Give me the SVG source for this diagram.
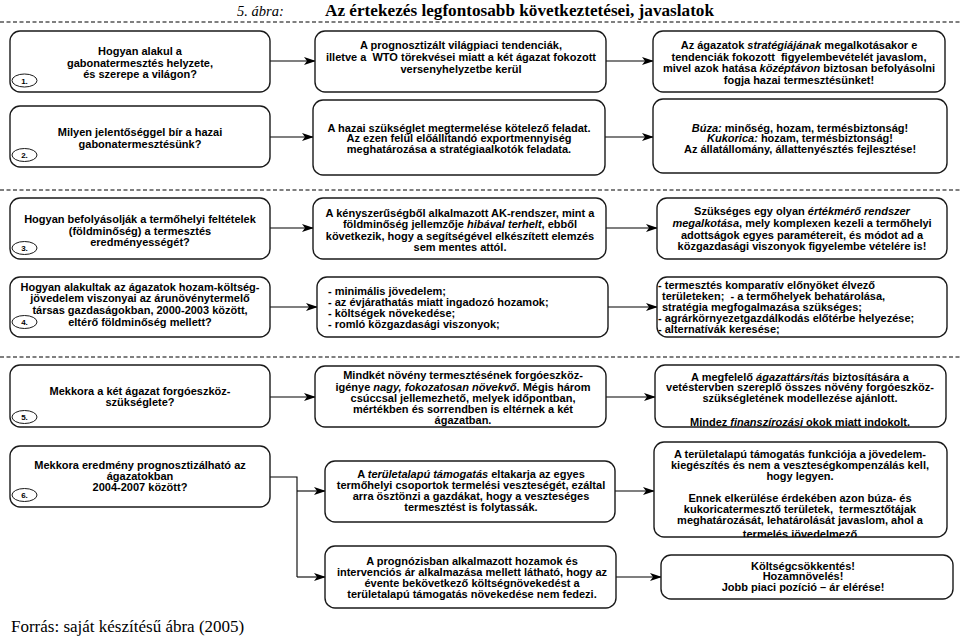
<svg xmlns="http://www.w3.org/2000/svg" width="960" height="636" viewBox="0 0 960 636">
<style>
.bx{fill:#fff;stroke:#1a1a1a;stroke-width:1.4}
.t{font-family:"Liberation Sans",Arial,sans-serif;font-weight:bold;font-size:11px;fill:#000}
.c{text-anchor:middle}
.i{font-style:italic}
.el{fill:#fff;stroke:#1a1a1a;stroke-width:1}
.n{font-family:"Liberation Sans",Arial,sans-serif;font-weight:bold;font-size:8px;text-anchor:middle}
.cn{fill:none;stroke:#000;stroke-width:1.1}
.dash{stroke:#555;stroke-width:1.5;stroke-dasharray:4 2.5}
.serif{font-family:"Liberation Serif","Times New Roman",serif;fill:#000}
</style>
<defs>
<marker id="ah" viewBox="0 0 12 8" refX="11" refY="4" markerWidth="12" markerHeight="8" markerUnits="userSpaceOnUse" orient="auto">
<path d="M0,0 L12,4 L0,8 L3,4 Z" fill="#000"/>
</marker>
<clipPath id="clip5m"><rect x="315" y="366" width="291" height="61"/></clipPath>
<clipPath id="clip6r"><rect x="654" y="442" width="293" height="95"/></clipPath>
</defs>

<text class="serif" x="237" y="15.5" font-size="14.5" font-style="italic">5. ábra:</text>
<text class="serif" x="325" y="15.5" font-size="17.2" font-weight="bold">Az értekezés legfontosabb következtetései, javaslatok</text>
<g id="separators">
<line class="dash" x1="0" y1="22" x2="960" y2="22"/>
<line class="dash" x1="0" y1="190" x2="960" y2="190"/>
<line class="dash" x1="0" y1="357" x2="960" y2="357"/>
</g>

<g id="connectors">
<line class="cn" x1="270" y1="61" x2="315" y2="61" marker-end="url(#ah)"/>
<line class="cn" x1="606" y1="61" x2="653" y2="61" marker-end="url(#ah)"/>
<line class="cn" x1="270" y1="137" x2="313" y2="137" marker-end="url(#ah)"/>
<line class="cn" x1="605" y1="137" x2="653" y2="137" marker-end="url(#ah)"/>
<line class="cn" x1="270" y1="228" x2="313" y2="228" marker-end="url(#ah)"/>
<line class="cn" x1="606" y1="228" x2="657" y2="228" marker-end="url(#ah)"/>
<line class="cn" x1="270" y1="307" x2="317" y2="307" marker-end="url(#ah)"/>
<line class="cn" x1="608" y1="307" x2="657" y2="307" marker-end="url(#ah)"/>
<line class="cn" x1="270" y1="397" x2="315" y2="397" marker-end="url(#ah)"/>
<line class="cn" x1="606" y1="397" x2="655" y2="397" marker-end="url(#ah)"/>
<path class="cn" d="M270,477 H297 V577"/>
<line class="cn" x1="297" y1="491" x2="325" y2="491" marker-end="url(#ah)"/>
<line class="cn" x1="297" y1="577" x2="325" y2="577" marker-end="url(#ah)"/>
<line class="cn" x1="615" y1="491" x2="654" y2="491" marker-end="url(#ah)"/>
<line class="cn" x1="616" y1="577" x2="661" y2="577" marker-end="url(#ah)"/>
</g>

<!-- Row 1 -->
<g id="q1">
<rect class="bx" x="10" y="31" width="260" height="61" rx="10"/>
<text class="t c" x="140" y="55">Hogyan alakul a</text>
<text class="t c" x="140" y="67">gabonatermesztés helyzete,</text>
<text class="t c" x="140" y="78">és szerepe a világon?</text>
<ellipse class="el" cx="24.5" cy="80.5" rx="12.5" ry="6.5"/>
<text class="n" x="24.5" y="83.5">1.</text>
</g>
<g id="a1">
<rect class="bx" x="315" y="31" width="291" height="61" rx="10"/>
<text class="t c" x="461" y="49">A prognosztizált világpiaci tendenciák,</text>
<text class="t c" x="461" y="60.5" xml:space="preserve">illetve a  WTO törekvései miatt a két ágazat fokozott</text>
<text class="t c" x="461" y="73">versenyhelyzetbe kerül</text>
</g>
<g id="p1">
<rect class="bx" x="653" y="31" width="292" height="61" rx="10"/>
<text class="t c" x="799" y="49">Az ágazatok <tspan class="i">stratégiájának</tspan> megalkotásakor e</text>
<text class="t c" x="799" y="60.5" xml:space="preserve">tendenciák fokozott  figyelembevételét javaslom,</text>
<text class="t c" x="799" y="72">mivel azok hatása <tspan class="i">középtávon</tspan> biztosan befolyásolni</text>
<text class="t c" x="799" y="84">fogja hazai termesztésünket!</text>
</g>

<!-- Row 2 -->
<g id="q2">
<rect class="bx" x="10" y="106" width="260" height="61" rx="10"/>
<text class="t c" x="140" y="136">Milyen jelentőséggel bír a hazai</text>
<text class="t c" x="140" y="148">gabonatermesztésünk?</text>
<ellipse class="el" cx="24.5" cy="155" rx="12.5" ry="6.5"/>
<text class="n" x="24.5" y="158">2.</text>
</g>
<g id="a2">
<rect class="bx" x="313" y="100" width="292" height="75" rx="10"/>
<text class="t c" x="459" y="131.5">A hazai szükséglet megtermelése kötelező feladat.</text>
<text class="t c" x="459" y="142">Az ezen felül előállítandó exportmennyiség</text>
<text class="t c" x="459" y="152.5">meghatározása a stratégiaalkotók feladata.</text>
</g>
<g id="p2">
<rect class="bx" x="653" y="99" width="294" height="74" rx="10"/>
<text class="t c" x="800" y="131.5"><tspan class="i">Búza:</tspan> minőség, hozam, termésbiztonság!</text>
<text class="t c" x="800" y="142"><tspan class="i">Kukorica:</tspan> hozam, termésbiztonság!</text>
<text class="t c" x="800" y="152.5">Az állatállomány, állattenyésztés fejlesztése!</text>
</g>

<!-- Row 3 -->
<g id="q3">
<rect class="bx" x="10" y="198" width="260" height="61" rx="10"/>
<text class="t c" x="140" y="223">Hogyan befolyásolják a termőhelyi feltételek</text>
<text class="t c" x="140" y="234.5">(földminőség) a termesztés</text>
<text class="t c" x="140" y="246">eredményességét?</text>
<ellipse class="el" cx="24.5" cy="248" rx="12.5" ry="6.5"/>
<text class="n" x="24.5" y="251">3.</text>
</g>
<g id="a3">
<rect class="bx" x="313" y="198" width="293" height="61" rx="10"/>
<text class="t c" x="460" y="217">A kényszerűségből alkalmazott AK-rendszer, mint a</text>
<text class="t c" x="460" y="228">földminőség jellemzője <tspan class="i">hibával terhelt</tspan>, ebből</text>
<text class="t c" x="460" y="239.5">következik, hogy a segítségével elkészített elemzés</text>
<text class="t c" x="460" y="250.5">sem mentes attól.</text>
</g>
<g id="p3">
<rect class="bx" x="657" y="198" width="290" height="61" rx="10"/>
<text class="t c" x="802" y="215">Szükséges egy olyan <tspan class="i">értékmérő rendszer</tspan></text>
<text class="t c" x="802" y="227"><tspan class="i">megalkotása</tspan>, mely komplexen kezeli a termőhelyi</text>
<text class="t c" x="802" y="238.5">adottságok egyes paramétereit, és módot ad a</text>
<text class="t c" x="802" y="250">közgazdasági viszonyok figyelembe vételére is!</text>
</g>

<!-- Row 4 -->
<g id="q4">
<rect class="bx" x="10" y="277" width="260" height="60" rx="10"/>
<text class="t c" x="140" y="290.5">Hogyan alakultak az ágazatok hozam-költség-</text>
<text class="t c" x="140" y="302">jövedelem viszonyai az árunövénytermelő</text>
<text class="t c" x="140" y="313.5">társas gazdaságokban, 2000-2003 között,</text>
<text class="t c" x="140" y="325.5">eltérő földminőség mellett?</text>
<ellipse class="el" cx="24.5" cy="322" rx="12.5" ry="6.5"/>
<text class="n" x="24.5" y="325">4.</text>
</g>
<g id="a4">
<rect class="bx" x="317" y="277" width="291" height="60" rx="10"/>
<text class="t" x="328" y="294.5">- minimális jövedelem;</text>
<text class="t" x="328" y="306">- az évjárathatás miatt ingadozó hozamok;</text>
<text class="t" x="328" y="317">- költségek növekedése;</text>
<text class="t" x="328" y="328">- romló közgazdasági viszonyok;</text>
</g>
<g id="p4">
<rect class="bx" x="657" y="277" width="290" height="60" rx="10"/>
<text class="t" x="658" y="288.5">- termesztés komparatív előnyöket élvező</text>
<text class="t" x="662" y="300" xml:space="preserve">területeken;  - a termőhelyek behatárolása,</text>
<text class="t" x="662" y="311">stratégia megfogalmazása szükséges;</text>
<text class="t" x="658" y="322">- agrárkörnyezetgazdálkodás előtérbe helyezése;</text>
<text class="t" x="658" y="332.5">- alternatívák keresése;</text>
</g>

<!-- Row 5 -->
<g id="q5">
<rect class="bx" x="10" y="365" width="260" height="62" rx="10"/>
<text class="t c" x="140" y="395">Mekkora a két ágazat forgóeszköz-</text>
<text class="t c" x="140" y="406">szükséglete?</text>
<ellipse class="el" cx="24.5" cy="417" rx="12.5" ry="6.5"/>
<text class="n" x="24.5" y="420">5.</text>
</g>
<g id="a5">
<rect class="bx" x="315" y="366" width="291" height="61" rx="10"/>
<g clip-path="url(#clip5m)">
<text class="t c" x="463" y="379">Mindkét növény termesztésének forgóeszköz-</text>
<text class="t c" x="463" y="390.5">igénye <tspan class="i">nagy, fokozatosan növekvő</tspan>. Mégis három</text>
<text class="t c" x="463" y="402">csúccsal jellemezhető, melyek időpontban,</text>
<text class="t c" x="463" y="413">mértékben és sorrendben is eltérnek a két</text>
<text class="t c" x="463" y="424">ágazatban.</text>
</g>
</g>
<g id="p5">
<rect class="bx" x="655" y="365" width="291" height="62" rx="10"/>
<text class="t c" x="800" y="380.5">A megfelelő <tspan class="i">ágazattársítás</tspan> biztosítására a</text>
<text class="t c" x="800" y="391">vetéstervben szereplő összes növény forgóeszköz-</text>
<text class="t c" x="800" y="402">szükségletének modellezése ajánlott.</text>
<text class="t c" x="800" y="425.5">Mindez <tspan class="i">finanszírozási</tspan> okok miatt indokolt.</text>
</g>

<!-- Row 6 -->
<g id="q6">
<rect class="bx" x="10" y="446" width="260" height="61" rx="10"/>
<text class="t c" x="140" y="469">Mekkora eredmény prognosztizálható az</text>
<text class="t c" x="140" y="479.5">ágazatokban</text>
<text class="t c" x="140" y="490.5">2004-2007 között?</text>
<ellipse class="el" cx="24.5" cy="495" rx="12.5" ry="6.5"/>
<text class="n" x="24.5" y="498">6.</text>
</g>
<g id="a6">
<rect class="bx" x="325" y="461" width="290" height="61" rx="10"/>
<text class="t c" x="471" y="478">A <tspan class="i">területalapú támogatás</tspan> eltakarja az egyes</text>
<text class="t c" x="471" y="489">termőhelyi csoportok termelési veszteségét, ezáltal</text>
<text class="t c" x="471" y="499.5">arra ösztönzi a gazdákat, hogy a veszteséges</text>
<text class="t c" x="471" y="510.5">termesztést is folytassák.</text>
</g>
<g id="p6">
<rect class="bx" x="654" y="442" width="293" height="95" rx="10"/>
<g clip-path="url(#clip6r)">
<text class="t c" x="800" y="458">A területalapú támogatás funkciója a jövedelem-</text>
<text class="t c" x="800" y="469">kiegészítés és nem a veszteségkompenzálás kell,</text>
<text class="t c" x="800" y="480">hogy legyen.</text>
<text class="t c" x="800" y="502">Ennek elkerülése érdekében azon búza- és</text>
<text class="t c" x="800" y="513" xml:space="preserve">kukoricatermesztő területek,  termesztőtájak</text>
<text class="t c" x="800" y="524">meghatározását, lehatárolását javaslom, ahol a</text>
<text class="t c" x="800" y="538">termelés jövedelmező</text>
</g>
</g>

<!-- Row 7 -->
<g id="a7">
<rect class="bx" x="325" y="546" width="291" height="62" rx="10"/>
<text class="t c" x="472" y="564.5">A prognózisban alkalmazott hozamok és</text>
<text class="t c" x="472" y="576">intervenciós ár alkalmazása mellett látható, hogy az</text>
<text class="t c" x="472" y="587">évente bekövetkező költségnövekedést a</text>
<text class="t c" x="472" y="598">területalapú támogatás növekedése nem fedezi.</text>
</g>
<g id="p7">
<rect class="bx" x="661" y="555" width="292" height="44" rx="10"/>
<text class="t c" x="803" y="569.5">Költségcsökkentés!</text>
<text class="t c" x="803" y="580">Hozamnövelés!</text>
<text class="t c" x="803" y="591">Jobb piaci pozíció – ár elérése!</text>
</g>

<text class="serif" x="11" y="632" font-size="17">Forrás: saját készítésű ábra (2005)</text>
</svg>
